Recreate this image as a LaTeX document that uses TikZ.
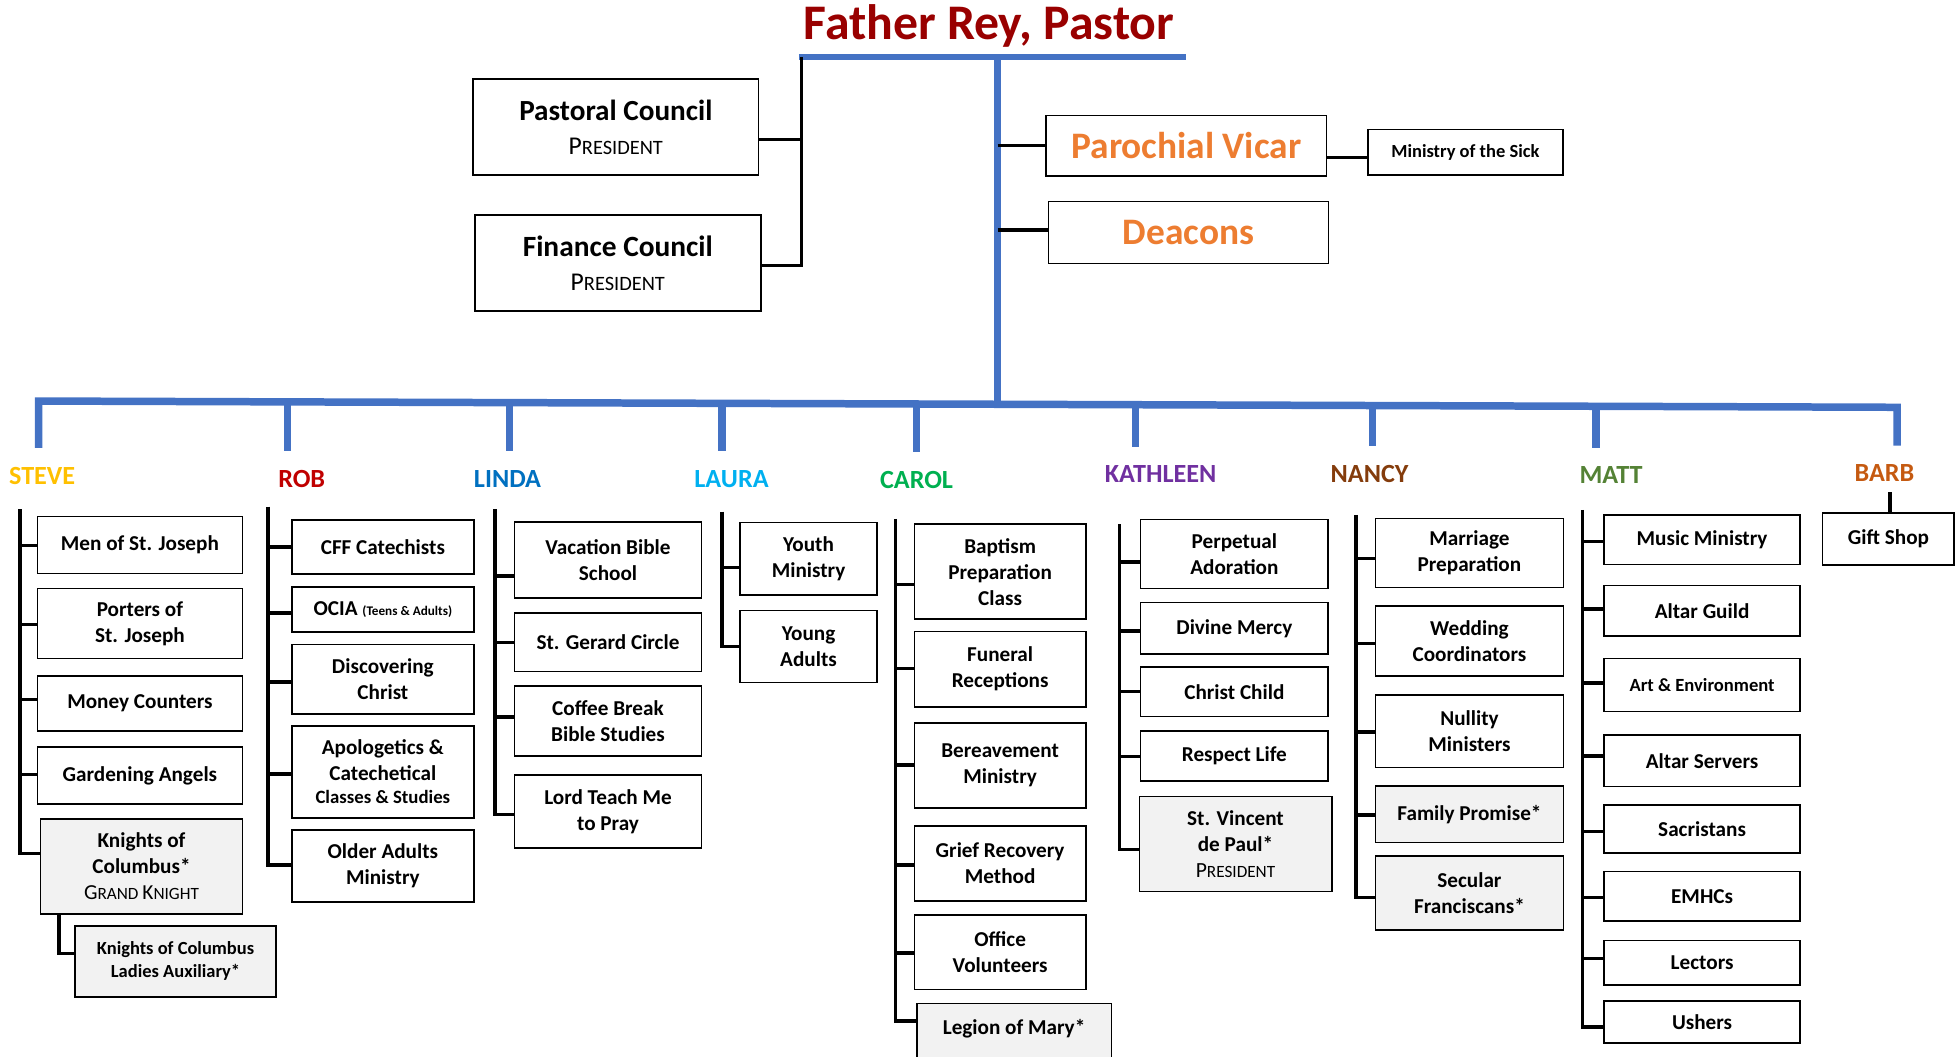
\documentclass[tikz,border=0pt]{standalone}
\usepackage{fontspec}
\setmainfont{Carlito}
\definecolor{orgblue}{HTML}{4472C4}
\definecolor{boxgray}{HTML}{F2F2F2}
\definecolor{orangeT}{HTML}{ED7D31}
\definecolor{titlered}{HTML}{990000}
\definecolor{cSteve}{HTML}{FFC000}
\definecolor{cRob}{HTML}{C00000}
\definecolor{cLinda}{HTML}{0070C0}
\definecolor{cLaura}{HTML}{00B0F0}
\definecolor{cCarol}{HTML}{00B050}
\definecolor{cKath}{HTML}{7030A0}
\definecolor{cNancy}{HTML}{843C0C}
\definecolor{cMatt}{HTML}{548235}
\definecolor{cBarb}{HTML}{C55A11}
\tikzset{
  orgnode/.style={draw=black, line width=0.8pt, fill=white, inner sep=0pt, align=center,
    font=\bfseries\fontsize{10.6}{13}\selectfont},
  grayed/.style={orgnode, fill=boxgray},
  conn/.style={draw=black, line width=1.75pt, line join=miter, line cap=butt},
  bluel/.style={draw=orgblue, line width=3.75pt, line join=miter, line cap=butt},
  namelab/.style={anchor=base, inner sep=0pt, font=\bfseries\fontsize{13.1}{15}\selectfont},
}
\newcommand\orgbox[7]{\node[#2, minimum width={(#5-#3)*0.625pt}, minimum height={(#6-#4)*0.625pt}] (#1) at ({(#3+#5)/2},{(#4+#6)/2}) {#7};}
\newcommand\orgtick[3]{\coordinate (#1-t) at (#2,#3); \draw[conn] (#1-t) -- (#1-t -| #1.west);}
\newcommand\fakesc[4]{{\mdseries\fontsize{#1}{#1}\selectfont #3\fontsize{#2}{#2}\selectfont #4}}
\begin{document}
\begin{tikzpicture}[x=0.625pt,y=-0.625pt]
\useasboundingbox (0,0) rectangle (1568,846);
\clip (0,0) rectangle (1568,846);

% title
\node[anchor=base, inner sep=0pt, text=titlered, font=\bfseries\fontsize{24.9}{28}\selectfont] (title) at (791.5,31.5) {Father Rey, Pastor};

% blue structure
\coordinate (topL) at (639.5,45.5);
\coordinate (topR) at (949,45.5);
\coordinate (topV) at (798.4,45.5);
\coordinate (busL) at (31,321);
\coordinate (busM) at (798.4,323.58);
\coordinate (busR) at (1518.5,326);
\coordinate (dSteve) at (31,358.5);
\coordinate (dBarb) at (1518.5,356.7);
\coordinate (dRob) at (230,361);
\coordinate (dLinda) at (408,361);
\coordinate (dLaura) at (578,361);
\coordinate (dCarol) at (733.7,362);
\coordinate (dKath) at (908.8,357.5);
\coordinate (dNancy) at (1098.7,357);
\coordinate (dMatt) at (1277.5,358.3);
\draw[bluel, line width=2.8pt] (topL) -- (topR);
\draw[bluel] (topV) -- (busM);
\draw[bluel] (dSteve) -- (busL) -- (busM) -- (busR) -- (dBarb);
\foreach \d in {dRob,dLinda,dLaura,dCarol,dKath,dNancy,dMatt}{\draw[bluel] (\d |- busM) -- (\d);}

% top boxes
\orgbox{pc}{orgnode, font=\bfseries\fontsize{14.6}{17}\selectfont}{378.6}{63.2}{607.2}{140.1}{Pastoral Council\\\fakesc{12.8}{10.2}{P}{RESIDENT}}
\orgbox{fc}{orgnode, font=\bfseries\fontsize{14.7}{17}\selectfont}{380}{172}{609}{248.9}{Finance Council\\\fakesc{12.8}{10.2}{P}{RESIDENT}}
\orgbox{pv}{orgnode, text=orangeT, font=\bfseries\fontsize{18.7}{21}\selectfont}{837.4}{92.6}{1061.7}{140.9}{Parochial Vicar}
\orgbox{ms}{orgnode, font=\bfseries\fontsize{9.25}{11}\selectfont}{1094.8}{103.8}{1251}{140.3}{Ministry of the Sick}
\orgbox{dc}{orgnode, text=orangeT, font=\bfseries\fontsize{18.7}{21}\selectfont}{839.3}{161.4}{1063.4}{210.8}{Deacons}

\coordinate (brTop) at (641.7,45.5);
\coordinate (pcT) at (641.7,111.5);
\coordinate (fcT) at (641.7,212.6);
\draw[conn] (brTop) -- (fcT) -- (fcT -| fc.east);
\draw[conn] (pcT) -- (pcT -| pc.east);
\coordinate (pvT) at (798.4,116.6);
\coordinate (dcT) at (798.4,184);
\draw[conn] (pvT) -- (pvT -| pv.west);
\draw[conn] (dcT) -- (dcT -| dc.west);
\coordinate (msT) at (1078,125.9);
\draw[conn] (msT -| pv.east) -- (msT -| ms.west);

% names
\node[namelab, text=cSteve] (nSteve) at (33.75,387.5) {STEVE};
\node[namelab, text=cRob] (nRob) at (241.5,390) {ROB};
\node[namelab, text=cLinda] (nLinda) at (406.2,390.3) {LINDA};
\node[namelab, text=cLaura] (nLaura) at (585.5,390.3) {LAURA};
\node[namelab, text=cCarol] (nCarol) at (733.6,391.2) {CAROL};
\node[namelab, text=cKath] (nKath) at (929,386.3) {KATHLEEN};
\node[namelab, text=cNancy] (nNancy) at (1096.2,386.3) {NANCY};
\node[namelab, text=cMatt] (nMatt) at (1289.5,387.4) {MATT};
\node[namelab, text=cBarb] (nBarb) at (1508.3,385.2) {BARB};

% STEVE
\orgbox{s1}{orgnode}{30}{413.5}{194}{459}{Men of St. Joseph}
\orgbox{s2}{orgnode}{30}{471}{194}{527}{Porters of\\St. Joseph}
\orgbox{s3}{orgnode}{30}{541}{194}{585}{Money Counters}
\orgbox{s4}{orgnode}{30}{598}{194}{643.5}{Gardening Angels}
\orgbox{s5}{grayed}{32.5}{655.5}{194}{731.5}{Knights of\\Columbus*\\\fakesc{10.7}{8.6}{G}{RAND }\fakesc{10.7}{8.6}{K}{NIGHT}}
\orgbox{s6}{grayed, font=\bfseries\fontsize{9.25}{11.5}\selectfont}{60}{741}{221}{798}{Knights of Columbus\\Ladies Auxiliary*}
\coordinate (steveTop) at (16,407.6);
\orgtick{s1}{16}{436.7}
\orgtick{s2}{16}{500}
\orgtick{s3}{16}{560}
\orgtick{s4}{16}{620}
\coordinate (s5-t) at (16,683);
\draw[conn] (steveTop) -- (s5-t) -- (s5-t -| s5.west);
\coordinate (kx) at (47.2,763);
\draw[conn] (kx |- s5.south) -- (kx) -- (kx -| s6.west);

% ROB
\orgbox{r1}{orgnode}{233.5}{416}{379.4}{459.5}{CFF Catechists}
\orgbox{r2}{orgnode}{233.5}{470}{379.4}{506}{OCIA {\fontsize{6.6}{8}\selectfont (Teens \& Adults)}}
\orgbox{r3}{orgnode}{233.5}{516}{379.4}{571.5}{Discovering\\Christ}
\orgbox{r4}{orgnode}{233.5}{581}{379.4}{654.5}{Apologetics \&\\Catechetical\\[-1.5pt]{\fontsize{9.4}{11}\selectfont Classes \& Studies}}
\orgbox{r5}{orgnode}{233.5}{664.5}{379.4}{722}{Older Adults\\Ministry}
\coordinate (robTop) at (214.5,405.5);
\orgtick{r1}{214.5}{438}
\orgtick{r2}{214.5}{490.8}
\orgtick{r3}{214.5}{546}
\orgtick{r4}{214.5}{619.5}
\coordinate (r5-t) at (214.5,692.5);
\draw[conn] (robTop) -- (r5-t) -- (r5-t -| r5.west);

% LINDA
\orgbox{l1}{orgnode}{411.7}{417.8}{561.6}{478.6}{Vacation Bible\\School}
\orgbox{l2}{orgnode}{411.7}{490.6}{561.6}{537.6}{St. Gerard Circle}
\orgbox{l3}{orgnode}{411.7}{549}{561.6}{605}{Coffee Break\\Bible Studies}
\orgbox{l4}{orgnode}{411.7}{620.4}{561.6}{678.8}{Lord Teach Me\\to Pray}
\coordinate (lindaTop) at (396,407.5);
\orgtick{l1}{396}{461}
\orgtick{l2}{396}{514.4}
\orgtick{l3}{396}{574}
\coordinate (l4-t) at (396,652);
\draw[conn] (lindaTop) -- (l4-t) -- (l4-t -| l4.west);

% LAURA
\orgbox{a1}{orgnode}{592.3}{418.3}{702}{476.2}{Youth\\Ministry}
\orgbox{a2}{orgnode}{592.3}{488.8}{702}{546.4}{Young\\Adults}
\coordinate (lauraTop) at (578,409.5);
\orgtick{a1}{578}{454.4}
\coordinate (a2-t) at (578,517.6);
\draw[conn] (lauraTop) -- (a2-t) -- (a2-t -| a2.west);

% CAROL
\orgbox{c1}{orgnode}{732}{419.6}{869}{495.5}{Baptism\\Preparation\\Class}
\orgbox{c2}{orgnode}{732}{505.4}{869}{565.8}{Funeral\\Receptions}
\orgbox{c3}{orgnode}{732}{578.8}{869}{646.5}{Bereavement\\Ministry}
\orgbox{c4}{orgnode}{732}{661}{869}{721}{Grief Recovery\\Method}
\orgbox{c5}{orgnode}{732}{732.6}{869}{792}{Office\\Volunteers}
\orgbox{c6}{grayed}{733.8}{803.2}{889.5}{850}{\raisebox{0pt}[\height][\dimexpr\depth+4.5pt\relax]{Legion of Mary*}}
\coordinate (carolTop) at (716.7,415.4);
\orgtick{c1}{716.7}{467.7}
\orgtick{c2}{716.7}{535}
\orgtick{c3}{716.7}{612.3}
\orgtick{c4}{716.7}{692.4}
\orgtick{c5}{716.7}{762.6}
\coordinate (c6-t) at (716.7,817.2);
\draw[conn] (carolTop) -- (c6-t) -- (c6-t -| c6.west);

% KATHLEEN
\orgbox{k1}{orgnode}{913}{415.7}{1063}{470.9}{Perpetual\\Adoration}
\orgbox{k2}{orgnode}{913}{482.1}{1063}{523.7}{Divine Mercy}
\orgbox{k3}{orgnode}{913}{534.1}{1063}{573.6}{Christ Child}
\orgbox{k4}{orgnode}{913}{585}{1063}{625}{Respect Life}
\orgbox{k5}{grayed}{911.9}{637.6}{1065.9}{713.7}{St. Vincent\\de Paul*\\\fakesc{10.8}{8.6}{P}{RESIDENT}}
\coordinate (kathTop) at (895.9,419.7);
\orgtick{k1}{895.9}{450}
\orgtick{k2}{895.9}{505}
\orgtick{k3}{895.9}{553.6}
\orgtick{k4}{895.9}{605.6}
\coordinate (k5-t) at (895.9,679.8);
\draw[conn] (kathTop) -- (k5-t) -- (k5-t -| k5.west);

% NANCY
\orgbox{n1}{orgnode}{1101}{414.9}{1251.3}{470.4}{Marriage\\Preparation}
\orgbox{n2}{orgnode}{1101}{485}{1251.3}{541.3}{Wedding\\Coordinators}
\orgbox{n3}{orgnode}{1101}{556.5}{1251.3}{614.2}{Nullity\\Ministers}
\orgbox{n4}{grayed}{1101}{629.1}{1251.3}{674.5}{Family Promise*}
\orgbox{n5}{grayed}{1101}{685.1}{1251.3}{744.4}{Secular\\Franciscans*}
\coordinate (nancyTop) at (1085.3,412.2);
\orgtick{n1}{1085.3}{446.9}
\orgtick{n2}{1085.3}{514.9}
\orgtick{n3}{1085.3}{585.9}
\orgtick{n4}{1085.3}{652.3}
\coordinate (n5-t) at (1085.3,718.2);
\draw[conn] (nancyTop) -- (n5-t) -- (n5-t -| n5.west);

% MATT
\orgbox{m1}{orgnode}{1284}{412}{1440.7}{451.7}{Music Ministry}
\orgbox{m2}{orgnode}{1284}{468.7}{1440.7}{509}{Altar Guild}
\orgbox{m3}{orgnode, font=\bfseries\fontsize{9.3}{11}\selectfont}{1284}{527}{1440.7}{569.5}{Art \& Environment}
\orgbox{m4}{orgnode}{1284}{588.4}{1440.7}{629.4}{Altar Servers}
\orgbox{m5}{orgnode}{1284}{644.5}{1440.7}{682.9}{Sacristans}
\orgbox{m6}{orgnode}{1284}{697.7}{1440.7}{737.4}{EMHCs}
\orgbox{m7}{orgnode}{1284}{752.8}{1440.7}{788.4}{Lectors}
\orgbox{m8}{orgnode}{1284}{801}{1440.7}{834.8}{Ushers}
\coordinate (mattTop) at (1266.5,408.2);
\orgtick{m1}{1266.5}{433.4}
\orgtick{m2}{1266.5}{487.6}
\orgtick{m3}{1266.5}{546.8}
\orgtick{m4}{1266.5}{605.1}
\orgtick{m5}{1266.5}{665.6}
\orgtick{m6}{1266.5}{718.5}
\orgtick{m7}{1266.5}{767}
\coordinate (m8-t) at (1266.5,822.2);
\draw[conn] (mattTop) -- (m8-t) -- (m8-t -| m8.west);

% BARB
\orgbox{g1}{orgnode}{1458.8}{410.4}{1564.2}{452.3}{Gift Shop}
\coordinate (gT) at (1512.7,394);
\draw[conn] (gT) -- (gT |- g1.north);
\end{tikzpicture}
\end{document}
